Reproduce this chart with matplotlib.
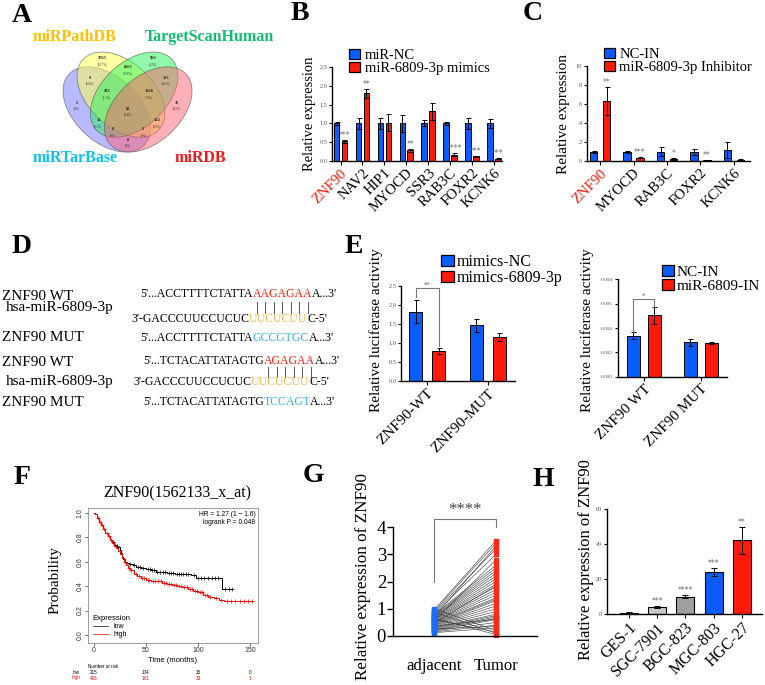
import numpy as np
import matplotlib
matplotlib.use('Agg')
import matplotlib.pyplot as plt
from matplotlib.patches import Ellipse, Patch
from matplotlib.lines import Line2D
from matplotlib.font_manager import FontProperties

W, H = 765, 685
SERIF = 'Liberation Serif'
SANS = 'Liberation Sans'
BLUE = '#0a5cff'
RED = '#ff1a0a'
STAR = '#666666'

# ---------------- data ----------------
# A  (venn region counts, placed in the usual 4-set layout)
venn_names = ['miRPathDB', 'TargetScanHuman', 'miRTarBase', 'miRDB']
venn_name_colors = ['#ffc000', '#10c070', '#10c0f0', '#f01818']
venn_regions = ['0001', '0010', '0011', '0100', '0101', '0110', '0111', '1000',
                '1001', '1010', '1011', '1100', '1101', '1110', '1111']
venn_counts = ['35', '966', '133', '3763', '124', '8563', '1568', '2',
               '8', '12', '0', '9', '2', '283', '82']
venn_pct = ['(0.2%)', '(4.3%)', '(0.6%)', '(16.7%)', '(0.6%)', '(38.0%)', '(7.0%)', '(0%)',
            '(0%)', '(0.1%)', '(0%)', '(0.0%)', '(0%)', '(1.3%)', '(0.4%)']

# B
b_genes = ['ZNF90', 'NAV2', 'HIP1', 'MYOCD', 'SSR3', 'RAB3C', 'FOXR2', 'KCNK6']
b_nc = [1.0, 1.0, 1.0, 1.0, 1.0, 1.0, 1.0, 1.0]
b_nc_err = [0.05, 0.14, 0.14, 0.22, 0.08, 0.05, 0.14, 0.13]
b_mim = [0.52, 1.80, 1.02, 0.28, 1.32, 0.17, 0.12, 0.06]
b_mim_err = [0.03, 0.12, 0.22, 0.04, 0.23, 0.03, 0.02, 0.01]
b_stars = ['***', '**', '', '**', '', '****', '***', '***']

# C
c_genes = ['ZNF90', 'MYOCD', 'RAB3C', 'FOXR2', 'KCNK6']
c_nc = [0.95, 0.95, 1.0, 0.95, 1.2]
c_nc_err = [0.1, 0.08, 0.45, 0.3, 0.85]
c_inh = [6.3, 0.35, 0.25, 0.08, 0.15]
c_inh_err = [1.5, 0.06, 0.1, 0.05, 0.05]
c_stars = ['**', '***', '*', '**', '']

# E
e_groups = ['ZNF90-WT', 'ZNF90-MUT']
e_nc = [1.83, 1.47]
e_nc_err = [0.30, 0.17]
e_mim = [0.80, 1.17]
e_mim_err = [0.08, 0.10]
e2_groups = ['ZNF90 WT', 'ZNF90 MUT']
e2_nc = [0.00338, 0.00282]
e2_nc_err = [0.0003, 0.0003]
e2_in = [0.00505, 0.00278]
e2_in_err = [0.0007, 0.0001]

# F  (Kaplan-Meier steps)
km_low_t = [0, 1, 3, 5, 7, 9, 11, 13, 15, 17, 19, 21, 23, 25, 26, 27, 28, 30, 32, 34,
            37, 40, 45, 50, 55, 60, 65, 70, 78, 85, 93, 98, 123, 133]
km_low_s = [1.0, 0.99, 0.96, 0.93, 0.90, 0.87, 0.84, 0.81, 0.78, 0.76, 0.74, 0.73, 0.72,
            0.70, 0.67, 0.64, 0.62, 0.60, 0.59, 0.58, 0.57, 0.56, 0.55, 0.54, 0.53, 0.52,
            0.52, 0.51, 0.50, 0.50, 0.49, 0.47, 0.38, 0.38]
km_high_t = [0, 1, 3, 5, 7, 9, 11, 13, 15, 17, 19, 21, 23, 25, 27, 29, 31, 33, 35, 38,
             41, 45, 50, 55, 60, 65, 70, 75, 80, 85, 90, 95, 100, 105, 110, 115, 120, 125, 152]
km_high_s = [1.0, 0.99, 0.96, 0.93, 0.90, 0.87, 0.84, 0.81, 0.78, 0.75, 0.73, 0.71, 0.69,
             0.66, 0.63, 0.60, 0.57, 0.55, 0.53, 0.50, 0.48, 0.47, 0.45, 0.44, 0.44, 0.43,
             0.42, 0.41, 0.40, 0.39, 0.375, 0.36, 0.35, 0.33, 0.31, 0.30, 0.29, 0.28, 0.28]
cens_low = [18, 20, 22, 35, 38, 42, 44, 47, 52, 54, 56, 58, 61, 63, 66, 68, 72, 74, 76, 80,
            82, 84, 86, 88, 90, 96, 100, 103, 106, 110, 113, 116, 119, 126, 130, 133]
cens_high = [4, 6, 8, 10, 12, 14, 16, 30, 34, 36, 40, 43, 46, 48, 52, 53, 57, 59, 62, 64,
             67, 69, 72, 74, 77, 79, 82, 84, 87, 89, 92, 94, 97, 99, 102, 104, 107, 109,
             112, 117, 122, 128, 132, 136, 140, 144, 148, 152]
risk_times = [0, 50, 100, 150]
risk_low = ['215', '104', '15', '0']
risk_high = ['416', '161', '33', '1']

# G  (paired samples)
g_adjacent = [0.95, 0.90, 0.85, 0.80, 0.78, 0.75, 0.72, 0.70, 0.68, 0.65, 0.62, 0.60, 0.58,
              0.55, 0.52, 0.50, 0.48, 0.45, 0.42, 0.40, 0.38, 0.35, 0.32, 0.30, 0.28, 0.25,
              0.22, 0.20, 0.18, 0.15, 0.12, 1.00, 0.88, 0.66, 0.55, 0.47, 0.36, 0.26, 0.70, 0.60]
g_tumor = [3.50, 3.40, 3.20, 3.00, 2.60, 2.50, 2.40, 2.30, 2.20, 2.10, 2.00, 1.90, 1.80,
           1.70, 1.60, 1.50, 1.40, 1.35, 1.30, 1.20, 1.10, 1.00, 0.90, 0.80, 0.75, 0.70,
           0.65, 0.60, 0.50, 0.40, 0.30, 0.20, 0.10, 0.05, 2.80, 1.85, 0.62, 0.35, 3.30, 0.15]

# H
h_cells = ['GES-1', 'SGC-7901', 'BGC-823', 'MGC-803', 'HGC-27']
h_vals = [1.0, 4.0, 10.0, 24.0, 42.0]
h_err = [0.2, 0.6, 1.0, 2.5, 7.5]
h_colors = ['#707070', '#c8c8c8', '#a0a0a0', BLUE, RED]
h_stars = ['', '***', '****', '***', '**']

# ---------------- figure ----------------
fig = plt.figure(figsize=(W / 100, H / 100), dpi=100)
renderer = fig.canvas.get_renderer()


def px_axes(x0, y0, x1, y1):
    return fig.add_axes([x0 / W, 1 - y1 / H, (x1 - x0) / W, (y1 - y0) / H])


def ftext(x, y, s, **kw):
    kw.setdefault('family', SERIF)
    return fig.text(x / W, 1 - y / H, s, **kw)


def style_bar_axes(ax, tick_size=4.5):
    for s in ['top', 'right']:
        ax.spines[s].set_visible(False)
    for s in ['left', 'bottom']:
        ax.spines[s].set_linewidth(1.0)
    ax.tick_params(axis='y', labelsize=tick_size, labelcolor='#555555', length=2.5,
                   width=0.8, pad=1)
    ax.tick_params(axis='x', length=3, width=0.8, pad=1)
    for lab in ax.get_yticklabels():
        lab.set_family(SERIF)


def grouped_bars(ax, n, a, ae, b, be, off, w, stars=None, star_size=5):
    x = np.arange(n)
    ekw = dict(elinewidth=0.7, capsize=1.8, capthick=0.7, ecolor='black')
    ax.bar(x - off, a, w, yerr=ae, color=BLUE, edgecolor='black', linewidth=0.7, error_kw=ekw)
    ax.bar(x + off, b, w, yerr=be, color=RED, edgecolor='black', linewidth=0.7, error_kw=ekw)
    if stars:
        for i, s in enumerate(stars):
            if s:
                ax.text(x[i] + off, b[i] + be[i], s, ha='center', va='bottom',
                        fontsize=star_size, color=STAR)
    return x


def box_legend(x, y, labels, size, hl=0.75, hh=0.7, pad=0.35):
    handles = [Patch(facecolor=BLUE, edgecolor='black', linewidth=0.9),
               Patch(facecolor=RED, edgecolor='black', linewidth=0.9)]
    fig.legend(handles, labels, loc='upper left', bbox_to_anchor=(x / W, 1 - y / H),
               frameon=False, prop=FontProperties(family=SERIF, size=size),
               handlelength=hl, handleheight=hh, handletextpad=pad, labelspacing=0.0,
               borderpad=0, borderaxespad=0)


# panel letters
for letter, (lx, ly) in zip('ABCDEFGH', [(22, 15), (300, 13), (533, 13), (22, 246),
                                          (354, 246), (22, 477), (313, 476), (543, 479)]):
    ftext(lx, ly, letter, fontsize=20, weight='bold', ha='center', va='center')

# ---------------- A: venn ----------------
axA = px_axes(57.6, 20.8, 198.3, 168.5)
axA.set_xlim(0, 1)
axA.set_ylim(0, 1)
axA.axis('off')
ell = [((0.350, 0.400), 140, (0.35, 0.35, 1.0, 0.42)),
       ((0.450, 0.500), 140, (1.0, 1.0, 0.35, 0.55)),
       ((0.544, 0.500), 40, (0.15, 0.95, 0.35, 0.50)),
       ((0.644, 0.400), 40, (1.0, 0.35, 0.42, 0.48))]
for c, ang, col in ell:
    axA.add_patch(Ellipse(c, 0.72, 0.45, angle=ang, facecolor=col,
                          edgecolor=(0.3, 0.3, 0.3, 0.6), linewidth=0.6))
venn_pos = [(0.85, 0.42), (0.68, 0.72), (0.77, 0.59), (0.32, 0.72), (0.71, 0.30),
            (0.50, 0.66), (0.65, 0.50), (0.14, 0.42), (0.50, 0.17), (0.29, 0.30),
            (0.39, 0.24), (0.23, 0.59), (0.61, 0.24), (0.35, 0.50), (0.50, 0.38)]
for (vx, vy), cnt, pct in zip(venn_pos, venn_counts, venn_pct):
    axA.text(vx, vy + 0.012, cnt, ha='center', va='bottom', fontsize=3.2,
             weight='bold', family=SERIF, color='#222222')
    axA.text(vx, vy, pct, ha='center', va='top', fontsize=2.2, family=SERIF, color='#333333')
for name, col, (nx, ny) in zip(venn_names, venn_name_colors,
                               [(33, 37), (145, 37), (33, 158), (175, 158)]):
    ftext(nx, ny, name, fontsize=11.5, weight='bold', color=col, va='center')

# ---------------- B ----------------
axB = px_axes(332, 67, 502, 161)
xb = grouped_bars(axB, 8, b_nc, b_nc_err, b_mim, b_mim_err, 0.18, 0.25, b_stars, 5.5)
axB.set_xlim(-0.39, 7.37)
axB.set_ylim(0, 2.5)
axB.set_yticks([0, 0.5, 1.0, 1.5, 2.0, 2.5])
axB.set_xticks(xb)
axB.set_xticklabels(b_genes, rotation=45, ha='right', rotation_mode='anchor',
                    fontsize=10.5, family=SERIF)
axB.get_xticklabels()[0].set_color(RED)
style_bar_axes(axB)
axB.set_ylabel('Relative expression', fontsize=10.5, family=SERIF, labelpad=2)
box_legend(349, 49, ['miR-NC', 'miR-6809-3p mimics'], 10.5)

# ---------------- C ----------------
axC = px_axes(587, 66, 750, 161)
xc = grouped_bars(axC, 5, c_nc, c_nc_err, c_inh, c_inh_err, 0.194, 0.23, c_stars, 5.5)
axC.set_xlim(-0.39, 4.48)
axC.set_ylim(0, 10)
axC.set_yticks([0, 2, 4, 6, 8, 10])
axC.set_xticks(xc)
axC.set_xticklabels(c_genes, rotation=45, ha='right', rotation_mode='anchor',
                    fontsize=10.5, family=SERIF)
axC.get_xticklabels()[0].set_color(RED)
style_bar_axes(axC)
axC.set_ylabel('Relative expression', fontsize=11, family=SERIF, labelpad=4)
box_legend(604, 48, ['NC-IN', 'miR-6809-3p Inhibitor'], 10.5, pad=0.3)

# ---------------- D: sequences ----------------
fp_lab = FontProperties(family=SERIF, size=11)
fp_seq = FontProperties(family=SERIF, size=8.5)


def text_w(s, fp):
    w, h, d = renderer.get_text_width_height_descent(s, fp, ismath=False)
    return w


def seq_row(x, y, parts, fp):
    # parts: (string, colour); returns centres of letters of the red part
    prefix = ''
    centres = []
    for s, col in parts:
        start = x + text_w(prefix + s, fp) - text_w(s, fp)
        ftext(start, y, s, color=col, fontproperties=fp, va='center')
        if col == RED:
            for k in range(len(s)):
                end = start + text_w(s[:k + 1], fp)
                centres.append(end - text_w(s[k], fp) / 2)
        prefix += s
    return centres


ORANGE = '#f7b84a'
CYAN = '#3ab4ea'
blocks = [
    dict(ys=(296, 308, 337), sy=(294, 319, 338), x=(140, 131, 140),
         wt=[("5'...ACCTTTTCTATTA", 'black'), ('AAGAGAA', RED), ("A...3'", 'black')],
         mi=[("3'-GACCCUUCCUCUC", 'black'), ('UUCUCUU', ORANGE), ("C-5'", 'black')],
         mu=[("5'...ACCTTTTCTATTA", 'black'), ('GCCGTGC', CYAN), ("A...3'", 'black')],
         bars=(302, 313)),
    dict(ys=(362, 382, 403), sy=(361, 382, 402), x=(143, 133, 143),
         wt=[("5'...TCTACATTATAGTG", 'black'), ('AGAGAA', RED), ("A...3'", 'black')],
         mi=[("3'-GACCCUUCCUCUC", 'black'), ('UUCUCUU', ORANGE), ("C-5'", 'black')],
         mu=[("5'...TCTACATTATAGTG", 'black'), ('TCCAGT', CYAN), ("A...3'", 'black')],
         bars=(367, 377)),
]
for blk in blocks:
    ftext(2, blk['ys'][0], 'ZNF90 WT', fontproperties=fp_lab, va='center')
    ftext(6, blk['ys'][1], 'hsa-miR-6809-3p', fontproperties=fp_lab, va='center')
    ftext(2, blk['ys'][2], 'ZNF90 MUT', fontproperties=fp_lab, va='center')
    cen = seq_row(blk['x'][0], blk['sy'][0], blk['wt'], fp_seq)
    seq_row(blk['x'][1], blk['sy'][1], blk['mi'], fp_seq)
    seq_row(blk['x'][2], blk['sy'][2], blk['mu'], fp_seq)
    for cx in cen:
        fig.add_artist(Line2D([cx / W, cx / W], [1 - blk['bars'][0] / H, 1 - blk['bars'][1] / H],
                              color='#555555', linewidth=0.7))

# ---------------- E ----------------
axE = px_axes(401, 286, 515, 381.4)
xe = grouped_bars(axE, 2, e_nc, e_nc_err, e_mim, e_mim_err, 0.19, 0.22)
axE.set_xlim(-0.43, 1.45)
axE.set_ylim(0, 2.5)
axE.set_yticks([0, 0.5, 1.0, 1.5, 2.0, 2.5])
axE.set_xticks(xe)
axE.set_xticklabels(e_groups, rotation=45, ha='right', rotation_mode='anchor',
                    fontsize=11, family=SERIF)
style_bar_axes(axE)
axE.plot([-0.19, -0.19, 0.19, 0.19], [2.2, 2.45, 2.45, 0.92], color='#777777', lw=0.8,
         clip_on=False)
axE.text(0, 2.45, '**', ha='center', va='bottom', fontsize=5, color=STAR)
ftext(376, 330, 'Relative luciferase activity', fontsize=11, rotation=90,
      ha='center', va='center')
box_legend(441, 254, ['mimics-NC', 'mimics-6809-3p'], 11.5, hl=0.8, hh=0.75, pad=0.2)

axE2 = px_axes(617.7, 279.3, 727, 376.7)
xe2 = grouped_bars(axE2, 2, e2_nc, e2_nc_err, e2_in, e2_in_err, 0.184, 0.22)
axE2.set_xlim(-0.46, 1.46)
axE2.set_ylim(0, 0.008)
axE2.set_yticks([0, 0.002, 0.004, 0.006, 0.008])
axE2.set_yticklabels(['0.000', '0.002', '0.004', '0.006', '0.008'])
axE2.set_xticks(xe2)
axE2.set_xticklabels(e2_groups, rotation=45, ha='right', rotation_mode='anchor',
                     fontsize=11, family=SERIF)
style_bar_axes(axE2, tick_size=3.8)
axE2.plot([-0.184, -0.184, 0.184, 0.184], [0.0037, 0.0064, 0.0064, 0.0058],
          color='#777777', lw=0.8, clip_on=False)
axE2.text(0, 0.0064, '*', ha='center', va='bottom', fontsize=5, color=STAR)
ftext(587, 330, 'Relative luciferase activity', fontsize=11, rotation=90,
      ha='center', va='center')
box_legend(662, 265, ['NC-IN', 'miR-6809-IN'], 11, hl=0.8, hh=0.75, pad=0.15)

# ---------------- F: KM ----------------
axF = px_axes(88, 508, 258, 643)
for t, s, cens, col in [(km_low_t, km_low_s, cens_low, 'black'),
                        (km_high_t, km_high_s, cens_high, 'red')]:
    axF.plot(t, s, drawstyle='steps-post', color=col, lw=0.7)
    t_arr = np.array(t)
    s_arr = np.array(s)
    idx = np.searchsorted(t_arr, cens, side='right') - 1
    axF.plot(cens, s_arr[idx], '+', color=col, ms=2.5, mew=0.5, ls='none')
axF.set_xlim(-5.8, 157.7)
axF.set_ylim(-0.066, 1.041)
axF.set_xticks([0, 50, 100, 150])
axF.set_yticks([0, 0.2, 0.4, 0.6, 0.8, 1.0])
axF.set_yticklabels(['0.0', '0.2', '0.4', '0.6', '0.8', '1.0'], rotation=90, va='center')
axF.tick_params(labelsize=5, length=2, width=0.5, pad=1, colors='#333333')
for lab in axF.get_xticklabels() + axF.get_yticklabels():
    lab.set_family(SANS)
for sp in axF.spines.values():
    sp.set_linewidth(0.5)
    sp.set_color('#777777')
axF.text(0.985, 0.975, 'HR = 1.27 (1 \u2212 1.6)\nlogrank P = 0.048', transform=axF.transAxes,
         ha='right', va='top', fontsize=4.8, family=SANS, linespacing=1.1)
leg = axF.legend([Line2D([], [], color='black', lw=0.5), Line2D([], [], color='red', lw=0.5)],
                 ['low', 'high'], title='Expression', loc='lower left', frameon=False,
                 prop=FontProperties(family=SANS, size=5), handlelength=2.2,
                 borderaxespad=0.3, labelspacing=0.15)
leg.get_title().set_fontproperties(FontProperties(family=SANS, size=5.5))
leg._legend_box.align = 'left'
ftext(177, 493, 'ZNF90(1562133_x_at)', fontsize=11.5, ha='center', va='center')
ftext(55, 580, 'Probability', fontsize=11, rotation=90, ha='center', va='center')
ftext(173, 660, 'Time (months)', fontsize=5.5, family=SANS, ha='center', va='center')
ftext(88, 667, 'Number at risk', fontsize=3.3, family=SANS, va='center')
ftext(80, 672, 'low', fontsize=3.3, family=SANS, va='center', ha='right')
ftext(80, 678, 'high', fontsize=3.3, family=SANS, va='center', ha='right', color='red')
for t, lo, hi in zip(risk_times, risk_low, risk_high):
    xp = 94 + t * 1.04
    ftext(xp, 672, lo, fontsize=3.3, family=SANS, va='center', ha='center')
    ftext(xp, 678, hi, fontsize=3.3, family=SANS, va='center', ha='center', color='red')

# ---------------- G ----------------
axG = px_axes(393, 527, 537, 636)
for a, b in zip(g_adjacent, g_tumor):
    axG.plot([0, 1], [a, b], color='#333333', lw=0.4, zorder=1)
axG.plot(np.zeros(len(g_adjacent)), g_adjacent, 's', color='#1a6bff', ms=3.2, zorder=2,
         clip_on=False)
axG.plot(np.ones(len(g_tumor)), g_tumor, 's', color='#ff2a1a', ms=3.2, zorder=2,
         clip_on=False)
axG.set_xlim(-0.66, 1.66)
axG.set_ylim(0, 4)
axG.set_yticks([0, 1, 2, 3, 4])
axG.set_xticks([0, 1])
axG.set_xticklabels(['adjacent', 'Tumor'])
for s in ['top', 'right']:
    axG.spines[s].set_visible(False)
for s in ['left', 'bottom']:
    axG.spines[s].set_linewidth(1.0)
axG.tick_params(axis='y', labelsize=13.5, length=4, width=1.0, pad=1)
axG.tick_params(axis='x', labelsize=12, length=0, pad=16)
for lab in axG.get_xticklabels() + axG.get_yticklabels():
    lab.set_family(SERIF)
axG.plot([0, 0, 1, 1], [2.0, 4.3, 4.3, 4.0], color='#777777', lw=0.8, clip_on=False)
axG.text(0.5, 4.32, '****', ha='center', va='bottom', fontsize=12, color='#444444',
         family=SERIF)
ftext(363, 576, 'Relative expression of ZNF90', fontsize=12.3, rotation=90,
      ha='center', va='center')

# ---------------- H ----------------
axH = px_axes(607, 508.7, 762, 614.3)
xh = np.arange(len(h_cells))
axH.bar(xh, h_vals, 0.64, yerr=h_err, color=h_colors, edgecolor='black', linewidth=0.8,
        error_kw=dict(elinewidth=0.7, capsize=2.2, capthick=0.7))
for i, s in enumerate(h_stars):
    if s:
        axH.text(xh[i], h_vals[i] + h_err[i], s, ha='center', va='bottom', fontsize=5.5,
                 color=STAR)
axH.set_xlim(-0.77, 4.71)
axH.set_ylim(0, 60)
axH.set_yticks([0, 20, 40, 60])
axH.set_xticks(xh)
axH.set_xticklabels(h_cells, rotation=45, ha='right', rotation_mode='anchor',
                    fontsize=11.5, family=SERIF)
style_bar_axes(axH, tick_size=4.5)
ftext(586, 560, 'Relative expression of ZNF90', fontsize=12, rotation=90,
      ha='center', va='center')

fig.savefig('out.png', dpi=100)
